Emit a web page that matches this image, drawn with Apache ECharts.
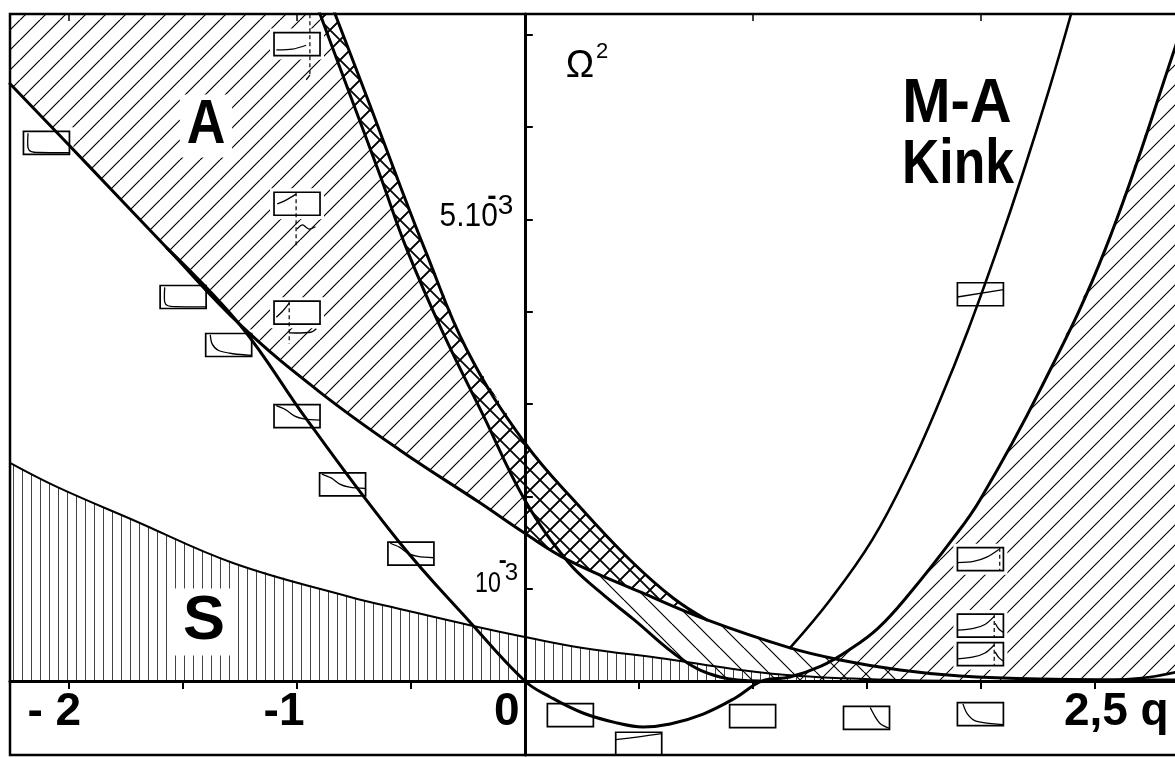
<!DOCTYPE html>
<html>
<head>
<meta charset="utf-8">
<script src="https://cdn.jsdelivr.net/npm/echarts@6/dist/echarts.min.js"></script>
<style>
  html, body { margin: 0; padding: 0; background: #fff; }
  #chart { width: 1175px; height: 758px; }
</style>
</head>
<body>
<div id="chart"></div>
<script>
// Wave-number axis q and squared frequency Ω² (Ω² given in units of 10^-3).
const qRange = [-2.26, 2.863];
const wRange = [-0.802, 7.226];

const xTicks = [-2, -1.5, -1, -0.5, 0.5, 1, 1.5, 2, 2.5];
const xTopTicks = [-2, -1, 1, 2];
const xTickLabels = [-2, -1, 0, 2.5];
const xTickText = ['- 2', '-1', '0', '2,5 q'];
const yTicks = [1, 2, 3, 4, 5, 6, 7];
const yTickLabels = [1, 5];
const yTickText = ['10', '5.10'];
const yTickExponent = ['-', '3'];

// Lower edge of the A band, continuing through the kink and flattening out.
const lowerEdge = [
  [-2.26, 6.47], [-1.91, 5.57], [-1.571, 4.69], [-1.25, 3.86], [-0.90, 3.13],
  [-0.548, 2.50], [-0.197, 1.93], [0.0, 1.60], [0.19, 1.31], [0.506, 0.964],
  [0.80, 0.661], [1.164, 0.358], [1.384, 0.228], [1.647, 0.119], [1.91, 0.054],
  [2.262, 0.022], [2.863, 0.011]
];

// Steep outer edge of the cross-hatched band.
const outerEdge = [
  [-0.875, 7.5], [-0.833, 7.226], [-0.680, 6.241], [-0.557, 5.428], [-0.438, 4.67],
  [-0.254, 3.586], [0.0, 2.579], [0.242, 1.885], [0.462, 1.311], [0.651, 0.899],
  [0.80, 0.661]
];

// Inner edge of the cross-hatched band.
const innerEdge = [
  [-0.94, 7.5], [-0.899, 7.226], [-0.767, 6.349], [-0.636, 5.482], [-0.517, 4.67],
  [-0.359, 3.77], [-0.183, 2.88], [0.0, 1.961], [0.19, 1.289], [0.33, 0.964],
  [0.475, 0.672], [0.694, 0.228], [0.857, 0.043], [1.032, 0.0]
];

// Branch that dips below zero between q = 0 and q ≈ 1 and then rises steeply.
const dipBranch = [
  [-1.571, 4.69], [-1.25, 3.857], [-0.956, 2.828], [-0.548, 1.495], [-0.241, 0.639],
  [0.0, 0.0], [0.111, -0.173], [0.255, -0.347], [0.405, -0.455], [0.519, -0.498],
  [0.638, -0.466], [0.783, -0.358], [0.924, -0.184], [1.042, 0.0], [1.164, 0.043],
  [1.30, 0.16], [1.42, 0.33], [1.55, 0.57], [1.691, 0.953], [1.875, 1.528],
  [1.998, 1.961], [2.262, 3.153], [2.547, 4.67], [2.854, 6.858], [2.90, 7.26]
];

// M-A kink branch.
const kinkBranch = [
  [1.164, 0.358], [1.340, 0.878], [1.525, 1.528], [1.687, 2.286], [1.823, 3.044],
  [1.946, 3.803], [2.073, 4.67], [2.191, 5.536], [2.301, 6.403], [2.398, 7.226],
  [2.437, 7.595]
];

// Upper edge of the S region.
const sEdge = [
  [-2.26, 2.362], [-2.054, 2.102], [-1.72, 1.744], [-1.281, 1.278], [-0.767, 0.91],
  [-0.548, 0.78], [-0.227, 0.596], [0.0, 0.477], [0.255, 0.358], [0.624, 0.238],
  [0.914, 0.13], [1.208, 0.054], [1.647, 0.011], [2.087, 0.0]
];

// Small rise close to the axis at large q.
const tailBranch = [[2.351, 0.0], [2.583, 0.011], [2.745, 0.043], [2.863, 0.098]];

// Inset sketches: position (q, Ω²) and the kind of profile each one shows.
const insetPos = [
  [-1.0, 6.90], [-2.1, 5.83], [-1.0, 5.17], [-1.5, 4.16], [-1.0, 3.99], [-1.3, 3.64],
  [-1.0, 2.87], [-0.8, 2.13], [-0.5, 1.38], [0.2, -0.37], [0.5, -0.68], [1.0, -0.38],
  [1.5, -0.40], [2.0, -0.36], [2.0, 1.32], [2.0, 0.60], [2.0, 0.29], [2.0, 4.19]
];
const insetKind = [
  'riseTall', 'L', 'arcWiggle', 'L', 'arcHook', 'decay',
  'drop', 'drop', 'drop', 'empty', 'top', 'empty',
  'dropRight', 'dropLeft', 'rise', 'riseBack', 'riseBack', 'riseLine'
];

// Profile glyphs inside an inset, in box units (0..1, y downward).
const GLYPHS = {
  empty: { paths: [] },
  L: { paths: [[[0.1, 0.08], [0.1, 0.72], [0.17, 0.88], [0.35, 0.92], [1, 0.93]]] },
  decay: { paths: [[[0.1, 0.06], [0.14, 0.45], [0.28, 0.74], [0.6, 0.88], [1, 0.95]]] },
  drop: { paths: [[[0.05, 0.05], [0.25, 0.22], [0.45, 0.5], [0.65, 0.62], [1, 0.68]]] },
  top: { paths: [[[0, 0.32], [0.5, 0.2], [1, 0.06]]] },
  dropRight: { paths: [[[0.58, 0.05], [0.68, 0.42], [0.8, 0.75], [1, 0.95]]] },
  dropLeft: { paths: [[[0.12, 0.05], [0.22, 0.5], [0.4, 0.8], [1, 0.95]]] },
  rise: { paths: [[[0, 0.65], [0.35, 0.6], [0.65, 0.4], [0.9, 0.08]]], dash: [[0.92, 0], [0.92, 1]] },
  riseBack: { paths: [[[0, 0.7], [0.35, 0.62], [0.6, 0.45], [0.8, 0.1]], [[0.82, 0.4], [0.9, 0.65], [1, 0.8]]], dash: [[0.8, 0], [0.8, 1]] },
  riseLine: { paths: [[[0, 0.62], [1, 0.3]]] },
  riseTall: { paths: [[[0.05, 0.75], [0.4, 0.72], [0.7, 0.55]], [[0.7, 2.05], [0.78, 1.85]]], dash: [[0.78, -0.8], [0.78, 1.9]] },
  arcWiggle: { paths: [[[0.07, 0.5], [0.25, 0.35], [0.48, 0.08]], [[0.5, 1.6], [0.62, 1.42], [0.76, 1.6], [0.9, 1.5]]], dash: [[0.48, 0], [0.48, 2.4]] },
  arcHook: { paths: [[[0.05, 0.7], [0.18, 0.45], [0.33, 0.08]], [[0.33, 1.38], [0.8, 1.35], [0.92, 1.2]]], dash: [[0.33, 0], [0.33, 1.85]] }
};

function hatch(size, dir, width, color) {
  const c = document.createElement('canvas');
  c.width = size; c.height = size;
  const g = c.getContext('2d');
  g.strokeStyle = color; g.lineWidth = width;
  g.beginPath();
  const dirs = dir === 'x' ? ['/', '\\'] : [dir];
  dirs.forEach(d => {
    [-size, 0, size].forEach(o => {
      if (d === '/') { g.moveTo(o, size); g.lineTo(o + size, 0); }
      else if (d === '\\') { g.moveTo(o, 0); g.lineTo(o + size, size); }
    });
    if (d === '|') { g.moveTo(size / 2, 0); g.lineTo(size / 2, size); }
  });
  g.stroke();
  return { image: c, repeat: 'repeat' };
}

const qLeft = qRange[0] - 0.1;
const qRight = qRange[1] + 0.2;
const upTo = (arr, q) => arr.filter(p => p[0] <= q + 1e-9);
const from = (arr, q) => arr.filter(p => p[0] >= q - 1e-9);

// Hatched regions built from the curves above.
const regionA = [[qLeft, 7.6]]
  .concat(outerEdge)
  .concat(upTo(lowerEdge, 0.55).reverse())
  .concat([[qLeft, 6.47]]);
const regionBand = upTo(innerEdge, 0)
  .concat(from(upTo(lowerEdge, 0.8), 0))
  .concat(upTo(outerEdge, 0.7).reverse());
const regionMid = from(upTo(lowerEdge, 1.7), 0.19)
  .concat([[1.647, 0]])
  .concat(from(innerEdge, 0.19).reverse());
const regionRight = from(dipBranch, 1.042)
  .concat([[qRight, 7.6], [qRight, 0.1]])
  .concat(tailBranch.slice().reverse());
const regionS = sEdge.concat([[qLeft, 0], [qLeft, 2.362]]);

function areaSeries(poly, fill) {
  return {
    type: 'custom', coordinateSystem: 'cartesian2d', clip: true, silent: true, z: 1,
    data: [[0, 0]],
    renderItem: (params, api) => ({
      type: 'polygon',
      shape: { points: poly.map(p => api.coord(p)), smooth: 0 },
      style: { fill: fill, stroke: null }
    })
  };
}

function curve(data, width) {
  return {
    type: 'line', data: data, showSymbol: false, smooth: 0.4,
    silent: true, z: 3, clip: true,
    lineStyle: { color: '#000', width: width, cap: 'round', join: 'round' }
  };
}

const insetSeries = {
  type: 'custom', coordinateSystem: 'cartesian2d', silent: true, z: 2, clip: false,
  data: insetPos,
  renderItem: (params, api) => {
    const c = api.coord([api.value(0), api.value(1)]);
    const W = 46, H = 23;
    const x0 = c[0] - W / 2, y0 = c[1] - H / 2;
    const gl = GLYPHS[insetKind[params.dataIndex]];
    const map = p => [x0 + p[0] * W, y0 + p[1] * H];
    const kids = [
      { type: 'rect', shape: { x: x0 - 4, y: y0 - 4, width: W + 8, height: H + 8 }, style: { fill: '#fff' } },
      { type: 'rect', shape: { x: x0, y: y0, width: W, height: H }, style: { fill: '#fff', stroke: '#000', lineWidth: 1.7 } }
    ];
    gl.paths.forEach(path => kids.push({
      type: 'polyline', shape: { points: path.map(map), smooth: 0.3 },
      style: { fill: null, stroke: '#000', lineWidth: 1.3 }
    }));
    if (gl.dash) {
      const a = map(gl.dash[0]), b = map(gl.dash[1]);
      kids.push({
        type: 'line', shape: { x1: a[0], y1: a[1], x2: b[0], y2: b[1] },
        style: { stroke: '#000', lineWidth: 1.2, lineDash: [4, 3] }
      });
    }
    return { type: 'group', children: kids };
  }
};

const FONT = '"Liberation Sans", Arial, sans-serif';

// Tick labels on the q axis, placed at the axis line through the scale.
const X_SHIFT = { '-2': -15, '-1': -13, '0': -18, '2.5': 22 };
const xLabelSeries = {
  type: 'custom', coordinateSystem: 'cartesian2d', silent: true, z: 20, clip: false,
  data: xTickLabels.map(v => [v, 0]),
  renderItem: (params, api) => {
    const v = api.value(0);
    const c = api.coord([v, 0]);
    return {
      type: 'text',
      style: {
        text: xTickText[params.dataIndex], x: c[0] + X_SHIFT[String(v)], y: c[1] + 31,
        align: 'center', verticalAlign: 'middle', font: 'bold 46px ' + FONT, fill: '#000'
      }
    };
  }
};

// Tick labels on the Ω² axis with a raised exponent.
const Y_STYLE = {
  1: { size: 29, sx: 0.8, dx: -24, dy: -5, supSize: 24, supDx: -20, supDy: -15, minDx: -22, minDy: -27 },
  5: { size: 34, sx: 0.88, dx: -27, dy: -3, supSize: 28, supDx: -27, supDy: -13, minDx: -33, minDy: -22 }
};
const yLabelSeries = {
  type: 'custom', coordinateSystem: 'cartesian2d', silent: true, z: 20, clip: false,
  data: yTickLabels.map(v => [0, v]),
  renderItem: (params, api) => {
    const v = api.value(1);
    const c = api.coord([0, v]);
    const s = Y_STYLE[v];
    return {
      type: 'group',
      children: [
        { type: 'text', x: c[0] + s.dx, y: c[1] + s.dy, scaleX: s.sx,
          style: { text: yTickText[params.dataIndex], x: 0, y: 0,
            align: 'right', verticalAlign: 'middle', font: s.size + 'px ' + FONT, fill: '#000' } },
        { type: 'text', style: { text: yTickExponent[1], x: c[0] + s.supDx, y: c[1] + s.supDy,
            align: 'left', verticalAlign: 'middle', font: s.supSize + 'px ' + FONT, fill: '#000' } },
        { type: 'text', style: { text: yTickExponent[0], x: c[0] + s.minDx, y: c[1] + s.minDy,
            align: 'center', verticalAlign: 'middle', font: 'bold ' + s.supSize + 'px ' + FONT, fill: '#000' } }
      ]
    };
  }
};

const chart = echarts.init(document.getElementById('chart'), null, { renderer: 'canvas' });
chart.setOption({
  animation: false,
  backgroundColor: '#fff',
  grid: {
    left: 10, top: 14, right: -2, bottom: 3, show: true, z: 10,
    containLabel: false, outerBoundsMode: 'none',
    borderColor: '#000', borderWidth: 2.5, backgroundColor: 'transparent'
  },
  xAxis: [{
    type: 'value', min: qRange[0], max: qRange[1], z: 10,
    axisLine: { onZero: true, lineStyle: { color: '#000', width: 3 } },
    axisTick: { show: true, customValues: xTicks, length: 8, lineStyle: { color: '#000', width: 2 } },
    axisLabel: { show: false },
    splitLine: { show: false }
  }, {
    type: 'value', position: 'top', min: qRange[0], max: qRange[1], z: 10,
    axisLine: { show: false, onZero: false },
    axisTick: { show: true, inside: true, customValues: xTopTicks, length: 7, lineStyle: { color: '#000', width: 1.5 } },
    axisLabel: { show: false },
    splitLine: { show: false }
  }],
  yAxis: {
    type: 'value', min: wRange[0], max: wRange[1], z: 10,
    axisLine: { onZero: true, onZeroAxisIndex: 0, lineStyle: { color: '#000', width: 3 } },
    axisTick: { show: true, inside: true, customValues: yTicks, length: 8, lineStyle: { color: '#000', width: 2 } },
    axisLabel: { show: false },
    splitLine: { show: false }
  },
  series: [
    areaSeries(regionS, hatch(9, '|', 1, '#444')),
    areaSeries(regionA, hatch(20, '/', 1.2, '#000')),
    areaSeries(regionBand, hatch(20, 'x', 1.8, '#000')),
    areaSeries(regionMid, hatch(24, '\\', 1.2, '#000')),
    areaSeries(regionRight, hatch(20, '/', 1.1, '#000')),
    insetSeries,
    curve(sEdge, 2),
    curve(lowerEdge, 3),
    curve(outerEdge, 3),
    curve(innerEdge, 3),
    curve(dipBranch, 3),
    curve(kinkBranch, 2.6),
    curve(tailBranch, 2.6),
    xLabelSeries,
    yLabelSeries
  ],
  graphic: [
    { type: 'text', x: 206, y: 126, scaleX: 0.85, z: 100,
      style: { text: 'A', x: 0, y: 0, align: 'center', verticalAlign: 'middle', font: 'bold 63px ' + FONT, fill: '#000', backgroundColor: '#fff', padding: [0, 8] } },
    { type: 'text', x: 204, y: 622, z: 100,
      style: { text: 'S', x: 0, y: 0, align: 'center', verticalAlign: 'middle', font: 'bold 63px ' + FONT, fill: '#000', backgroundColor: '#fff', padding: [2, 8] } },
    { type: 'text', x: 957, y: 105, scaleX: 0.92, z: 100,
      style: { text: 'M-A', x: 0, y: 0, align: 'center', verticalAlign: 'middle', font: 'bold 63px ' + FONT, fill: '#000' } },
    { type: 'text', x: 958, y: 166, scaleX: 0.82, z: 100,
      style: { text: 'Kink', x: 0, y: 0, align: 'center', verticalAlign: 'middle', font: 'bold 63px ' + FONT, fill: '#000' } },
    { type: 'text', x: 580, y: 67, z: 100,
      style: { text: 'Ω', x: 0, y: 0, align: 'center', verticalAlign: 'middle', font: '38px ' + FONT, fill: '#000' } },
    { type: 'text', x: 602, y: 52, z: 100,
      style: { text: '2', x: 0, y: 0, align: 'center', verticalAlign: 'middle', font: '22px ' + FONT, fill: '#000' } }
  ]
});
</script>
</body>
</html>
